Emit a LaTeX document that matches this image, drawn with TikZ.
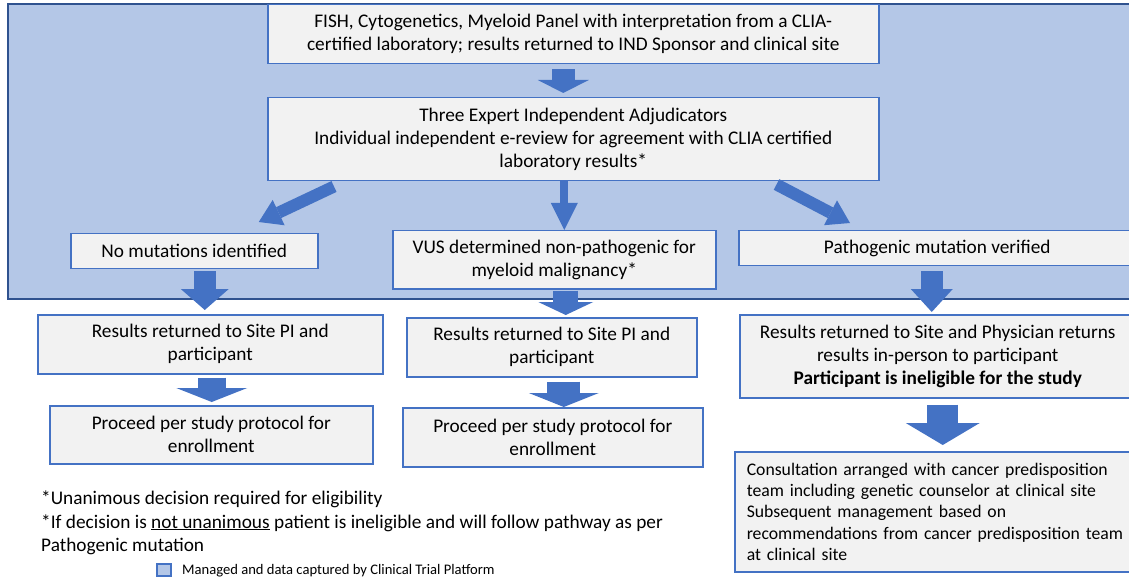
\documentclass[tikz,border=0pt]{standalone}
\usepackage{fontspec}
\setmainfont{Carlito}
\usetikzlibrary{arrows.meta}
\definecolor{bgblue}{HTML}{B4C7E7}
\definecolor{bgline}{HTML}{2F528F}
\definecolor{boxfill}{HTML}{F2F2F2}
\definecolor{boxline}{HTML}{4472C4}
\definecolor{arrblue}{HTML}{4472C4}
\begin{document}
\begin{tikzpicture}[x=1pt,y=-1pt,
  box/.style={draw=boxline, fill=boxfill, line width=1.5pt, inner sep=0pt,
    align=center, anchor=north west, font=\fontsize{19.3}{23}\selectfont},
  blockarrow/.style n args={3}{draw=arrblue, line width=#1,
    -{Triangle[width=#2,length=#3,line width'=0pt]}},
  note/.style={anchor=base west, inner sep=0pt, font=\fontsize{19.3}{23}\selectfont}]
\useasboundingbox (0,0) rectangle (1129,577);
\clip (0,0) rectangle (1129,577);

% managed region
\fill[bgblue, draw=bgline, line width=1.5pt] (8,4) rectangle (1145,299);

% boxes
\node[box, minimum width=611pt, minimum height=59pt] (top) at (267,4)
  {FISH, Cytogenetics, Myeloid Panel with interpretation from a CLIA-\\certified laboratory; results returned to IND Sponsor and clinical site};
\node[box, minimum width=611pt, minimum height=83pt] (adj) at (267,97)
  {Three Expert Independent Adjudicators\\Individual independent e-review for agreement with CLIA certified\\laboratory results*};
\node[box, minimum width=247pt, minimum height=35pt] (nomut) at (70,233)
  {No mutations identified};
\node[box, minimum width=323pt, minimum height=58pt] (vus) at (392,230)
  {VUS determined non-pathogenic for\\myeloid malignancy*};
\node[box, minimum width=397pt, minimum height=35pt] (path) at (738,230)
  {Pathogenic mutation verified};
\node[box, minimum width=345pt, minimum height=59pt] (res1) at (37,314)
  {Results returned to Site PI and\\participant};
\node[box, minimum width=290pt, minimum height=59pt] (res2) at (406,317)
  {Results returned to Site PI and\\participant};
\node[box, minimum width=396pt, minimum height=83pt] (res3) at (739,314)
  {Results returned to Site and Physician returns\\results in-person to participant\\\textbf{Participant is ineligible for the study}};
\node[box, minimum width=323pt, minimum height=58pt] (proc1) at (49,405)
  {Proceed per study protocol for\\enrollment};
\node[box, minimum width=300pt, minimum height=59pt] (proc2) at (402,407)
  {Proceed per study protocol for\\enrollment};
\node[box, align=left, text width=377pt, inner xsep=12pt, minimum height=120pt,
  font=\fontsize{17.7}{21.3}\selectfont] (cons) at (734,451)
  {Consultation arranged with cancer predisposition\\team including genetic counselor at clinical site\\Subsequent management based on\\recommendations from cancer predisposition team\\at clinical site};

% block arrows
\draw[blockarrow={23pt}{51pt}{13pt}] ([shift={(-10,5)}]top.south) -- ([shift={(-10,-4)}]adj.north);
\draw[blockarrow={12pt}{28pt}{22pt}] ([shift={(67,5)}]adj.south west) -- ([shift={(64.5,-11)}]nomut.north);
\draw[blockarrow={8pt}{27pt}{27pt}] ([shift={(-9,0)}]adj.south) -- ([shift={(10,0)}]vus.north);
\draw[blockarrow={12pt}{28pt}{22pt}] ([shift={(-103,3)}]adj.south east) -- ([shift={(112,-7)}]path.north west);
\draw[blockarrow={22pt}{48pt}{21pt}] ([shift={(10.5,2)}]nomut.south) -- ([shift={(-5.5,-4)}]res1.north);
\draw[blockarrow={25pt}{55pt}{13pt}] ([shift={(11.5,1)}]vus.south) -- ([shift={(14,-2)}]res2.north);
\draw[blockarrow={22pt}{42pt}{23pt}] ([shift={(-5.5,5)}]path.south) -- ([shift={(-6,-2)}]res3.north);
\draw[blockarrow={28pt}{71pt}{14pt}] ([shift={(1.5,3)}]res1.south) -- ([shift={(0.5,-3)}]proc1.north);
\draw[blockarrow={33pt}{70pt}{14pt}] ([shift={(12,4)}]res2.south) -- ([shift={(11,0)}]proc2.north);
\draw[blockarrow={31pt}{74pt}{22pt}] ([shift={(5,6)}]res3.south) -- ([shift={(7.5,-6)}]cons.north);

% footnotes
\node[note] (fn1) at (41,504) {*Unanimous decision required for eligibility};
\node[note] (fn2) at (41,528) {*If decision is \underline{not unanimous} patient is ineligible and will follow pathway as per};
\node[note] (fn3) at (41,551) {Pathogenic mutation};

% legend
\draw[fill=bgblue, draw=boxline, line width=1.2pt] (157,564) rectangle (171,576);
\node[anchor=west, inner sep=0pt, font=\fontsize{14.6}{16}\selectfont] (legend) at (182,571)
  {Managed and data captured by Clinical Trial Platform};
\end{tikzpicture}
\end{document}
